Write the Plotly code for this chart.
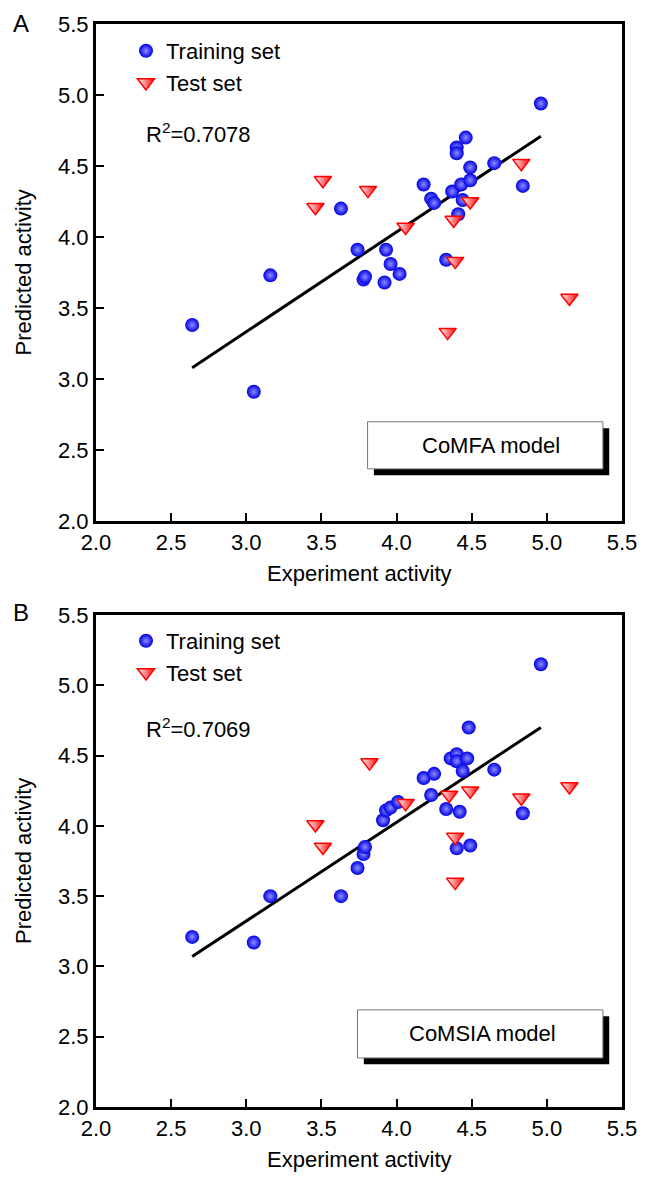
import plotly.graph_objects as go

# ---------------- data ----------------
# Panel A (CoMFA)
exp_train_A = [2.64, 3.05, 3.16, 3.63, 3.74, 3.78, 3.79, 3.92, 3.93, 3.96, 4.02, 4.18, 4.23, 4.25,
               4.33, 4.37, 4.40, 4.40, 4.41, 4.43, 4.44, 4.46, 4.49, 4.49, 4.65, 4.84, 4.96]
pred_train_A = [3.38, 2.91, 3.73, 4.20, 3.91, 3.70, 3.72, 3.68, 3.91, 3.81, 3.74, 4.37, 4.27, 4.24,
                3.84, 4.32, 4.63, 4.59, 4.16, 4.37, 4.26, 4.70, 4.49, 4.40, 4.52, 4.36, 4.94]
exp_test_A = [3.46, 3.51, 3.81, 4.06, 4.34, 4.38, 4.39, 4.49, 4.83, 5.15]
pred_test_A = [4.21, 4.40, 4.33, 4.07, 3.33, 4.12, 3.83, 4.25, 4.52, 3.57]
fit_x_A = [2.64, 4.96]
fit_y_A = [3.08, 4.71]

# Panel B (CoMSIA)
exp_train_B = [2.64, 3.05, 3.16, 3.63, 3.74, 3.78, 3.79, 3.91, 3.93, 3.96, 4.01, 4.18, 4.23, 4.25,
               4.33, 4.36, 4.40, 4.40, 4.40, 4.42, 4.44, 4.47, 4.48, 4.49, 4.65, 4.84, 4.96]
pred_train_B = [3.21, 3.17, 3.50, 3.50, 3.70, 3.80, 3.85, 4.04, 4.11, 4.13, 4.17, 4.34, 4.22, 4.37,
                4.12, 4.48, 4.51, 4.46, 3.84, 4.10, 4.39, 4.48, 4.70, 3.86, 4.40, 4.09, 5.15]
exp_test_B = [3.46, 3.51, 3.82, 4.06, 4.35, 4.39, 4.39, 4.49, 4.83, 5.15]
pred_test_B = [4.01, 3.85, 4.45, 4.16, 4.22, 3.92, 3.60, 4.25, 4.20, 4.28]
fit_x_B = [2.64, 4.96]
fit_y_B = [3.07, 4.70]

r2_labels = ["R<sup>2</sup>=0.7078", "R<sup>2</sup>=0.7069"]
model_labels = ["CoMFA model", "CoMSIA model"]
panel_labels = ["A", "B"]
tick_vals = [2.0, 2.5, 3.0, 3.5, 4.0, 4.5, 5.0, 5.5]
tick_text = ["2.0", "2.5", "3.0", "3.5", "4.0", "4.5", "5.0", "5.5"]

# ---------------- figure ----------------
W, H = 646, 1183
OFF = 8  # page body margin of the exported html
# plot area in screen pixels
SX0, SX1 = 96, 622
SY0, SY1 = 24, 1107
L, T = SX0 - OFF, SY0 - OFF
R, B = W - (SX1 - OFF), H - (SY1 - OFF)
PW, PH = SX1 - SX0, SY1 - SY0
FONT = "Liberation Sans, Arial, Helvetica, sans-serif"
FS = 22


def px2x(px):
    return (px - SX0) / PW


def py2y(py):
    return 1 - (py - SY0) / PH


fig = go.Figure()

sphere = dict(color="#0000e6", size=14, symbol="circle",
              gradient=dict(type="radial", color="#8c8cff"), line=dict(width=0))
tri = dict(color="#ffffff", size=15, symbol="triangle-down",
           gradient=dict(type="horizontal", color="#ff0000"), line=dict(color="#ff0000", width=1.5))

panels = [
    (exp_train_A, pred_train_A, exp_test_A, pred_test_A, fit_x_A, fit_y_A, "x", "y", "legend"),
    (exp_train_B, pred_train_B, exp_test_B, pred_test_B, fit_x_B, fit_y_B, "x2", "y2", "legend2"),
]
for ex, pr, ext, prt, fx, fy, xa, ya, lg in panels:
    fig.add_trace(go.Scatter(x=fx, y=fy, mode="lines", line=dict(color="black", width=3),
                             showlegend=False, xaxis=xa, yaxis=ya, hoverinfo="skip"))
    fig.add_trace(go.Scatter(x=ex, y=pr, mode="markers", marker=sphere, name="Training set",
                             xaxis=xa, yaxis=ya, legend=lg))
    fig.add_trace(go.Scatter(x=ext, y=prt, mode="markers", marker=tri, name="Test set",
                             xaxis=xa, yaxis=ya, legend=lg))

xdom = [0, 1]
ydomA = [py2y(521), py2y(24)]
ydomB = [py2y(1107), py2y(615)]

axis_common = dict(range=[2.0, 5.5], tickvals=tick_vals, ticktext=tick_text,
                   showline=True, linecolor="black", linewidth=3, mirror=True,
                   ticks="inside", ticklen=8, tickwidth=2, tickcolor="black",
                   showgrid=False, zeroline=False, automargin=False,
                   tickfont=dict(family=FONT, size=FS, color="black"))

fig.update_layout(
    width=W, height=H, margin=dict(l=L, r=R, t=T, b=B, autoexpand=False),
    paper_bgcolor="white", plot_bgcolor="white",
    font=dict(family=FONT, size=FS, color="black"),
    xaxis=dict(domain=xdom, anchor="y", **axis_common),
    yaxis=dict(domain=ydomA, anchor="x", **axis_common),
    xaxis2=dict(domain=xdom, anchor="y2", **axis_common),
    yaxis2=dict(domain=ydomB, anchor="x2", **axis_common),
    legend=dict(x=px2x(126), y=py2y(30), xanchor="left", yanchor="top",
                bgcolor="rgba(0,0,0,0)", font=dict(family=FONT, size=FS), tracegroupgap=0),
    legend2=dict(x=px2x(126), y=py2y(620), xanchor="left", yanchor="top",
                 bgcolor="rgba(0,0,0,0)", font=dict(family=FONT, size=FS), tracegroupgap=0),
)

# model boxes (shadow + white box) in data coordinates of each panel
boxes = [
    ("x", "y", 3.807, 5.373, 2.367, 2.699, 4.627, 2.533),
    ("x2", "y2", 3.74, 5.373, 2.349, 2.691, 4.573, 2.520),
]
shapes = []
annotations = []
for i, (xr, yr, x0, x1, y0, y1, tx, ty) in enumerate(boxes):
    dx, dy = 0.042, 0.045
    shapes.append(dict(type="rect", xref=xr, yref=yr, x0=x0 + dx, x1=x1 + dx, y0=y0 - dy, y1=y1 - dy,
                       fillcolor="black", line=dict(width=0), layer="above"))
    shapes.append(dict(type="rect", xref=xr, yref=yr, x0=x0, x1=x1, y0=y0, y1=y1,
                       fillcolor="white", line=dict(color="#777777", width=1), layer="above"))
    annotations.append(dict(xref=xr, yref=yr, x=tx, y=ty, text=model_labels[i], showarrow=False,
                            font=dict(family=FONT, size=FS, color="black")))

# R^2 text
for i, ypx in enumerate([133, 728]):
    annotations.append(dict(xref="paper", yref="paper", x=px2x(144), y=py2y(ypx), xanchor="left",
                            yanchor="middle", text=r2_labels[i], showarrow=False,
                            font=dict(family=FONT, size=FS, color="black")))

# panel letters
for i, ypx in enumerate([23, 612]):
    annotations.append(dict(xref="paper", yref="paper", x=px2x(21), y=py2y(ypx), xanchor="center",
                            yanchor="middle", text=panel_labels[i], showarrow=False,
                            font=dict(family=FONT, size=24, color="black")))

# axis titles
for i, (ytop, ybot) in enumerate([(24, 521), (615, 1107)]):
    annotations.append(dict(xref="paper", yref="paper", x=px2x(23), y=py2y((ytop + ybot) / 2),
                            xanchor="center", yanchor="middle", text="Predicted activity",
                            textangle=-90, showarrow=False,
                            font=dict(family=FONT, size=FS, color="black")))
    annotations.append(dict(xref="paper", yref="paper", x=px2x((96 + 622) / 2),
                            y=py2y(ybot + 52), xanchor="center", yanchor="middle",
                            text="Experiment activity", showarrow=False,
                            font=dict(family=FONT, size=FS, color="black")))

fig.update_layout(shapes=shapes, annotations=annotations)
fig.write_html("out.html")
